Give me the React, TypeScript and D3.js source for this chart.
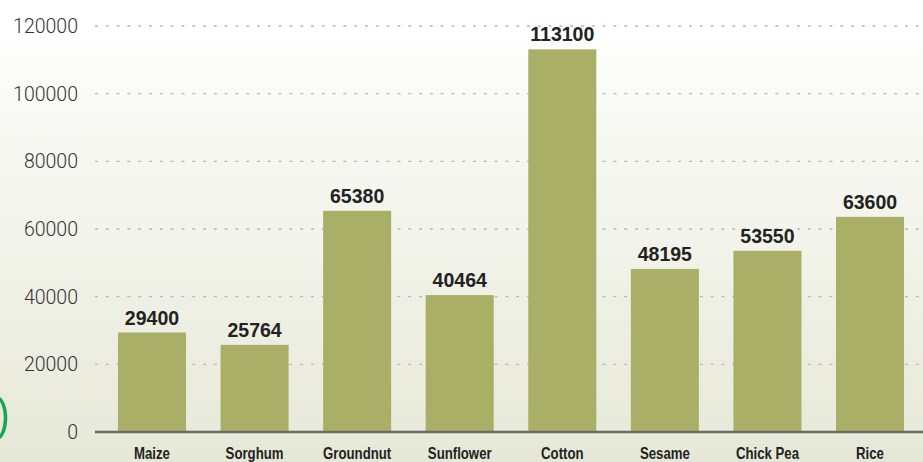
import React from "react";
import * as d3 from "d3";

const categories = ["Maize", "Sorghum", "Groundnut", "Sunflower", "Cotton", "Sesame", "Chick Pea", "Rice"];
const values = [29400, 25764, 65380, 40464, 113100, 48195, 53550, 63600];
const yTicks = [0, 20000, 40000, 60000, 80000, 100000, 120000];

const W = 923;
const H = 462;

export default function App() {
  const y = d3.scaleLinear().domain([0, 120000]).range([432, 26]);
  const x = d3.scaleBand<string>().domain(categories).range([100.7, 921.3]).paddingInner(0.337).paddingOuter(0.1685);

  return (
    <svg width={W} height={H} style={{ position: "absolute", left: 0, top: 0, display: "block" }}>
      <defs>
        <linearGradient id="bg" x1="0" y1="0" x2="0" y2="1">
          <stop offset="0" stopColor="#fdfdfb" />
          <stop offset="1" stopColor="#e6e8d7" />
        </linearGradient>
      </defs>
      <rect x={0} y={0} width={W} height={H} fill="#ffffff" />
      <rect x={0} y={40} width={W} height={H - 40} fill="url(#bg)" />
      <ellipse cx={-3} cy={418} rx={8.5} ry={20} fill="none" stroke="#1ca64c" strokeWidth={3.5} />
      {yTicks.map((t) => (
        <g key={t}>
          {t > 0 && (
            <line x1={95} x2={W} y1={y(t)} y2={y(t)} stroke="#b8b8b8" strokeWidth={1.3} strokeDasharray="3 7.8" />
          )}
          <text
            x={78}
            y={y(t)}
            dy="0.36em"
            textAnchor="end"
            fontFamily="Roboto, 'Helvetica Neue', Arial, sans-serif"
            fontWeight={300}
            fontSize={19.5}
            fill="#333"
          >
            {t}
          </text>
        </g>
      ))}
      {categories.map((c, i) => {
        const cx = (x(c) as number) + x.bandwidth() / 2;
        return (
          <g key={c}>
            <rect x={x(c)} y={y(values[i])} width={x.bandwidth()} height={y(0) - y(values[i])} fill="#a9af66" />
            <text
              x={cx}
              y={y(values[i]) - 8}
              textAnchor="middle"
              fontFamily="'Liberation Sans', Arial, sans-serif"
              fontWeight={700}
              fontSize={19.5}
              fill="#222"
            >
              {values[i]}
            </text>
            <text
              transform={`translate(${cx},459) scale(0.8,1)`}
              x={0}
              y={0}
              textAnchor="middle"
              fontFamily="'Liberation Sans', Arial, sans-serif"
              fontWeight={700}
              fontSize={16.5}
              fill="#222"
            >
              {c}
            </text>
          </g>
        );
      })}
      <line x1={95} x2={W} y1={432} y2={432} stroke="#6a6a6a" strokeWidth={2.5} />
    </svg>
  );
}
